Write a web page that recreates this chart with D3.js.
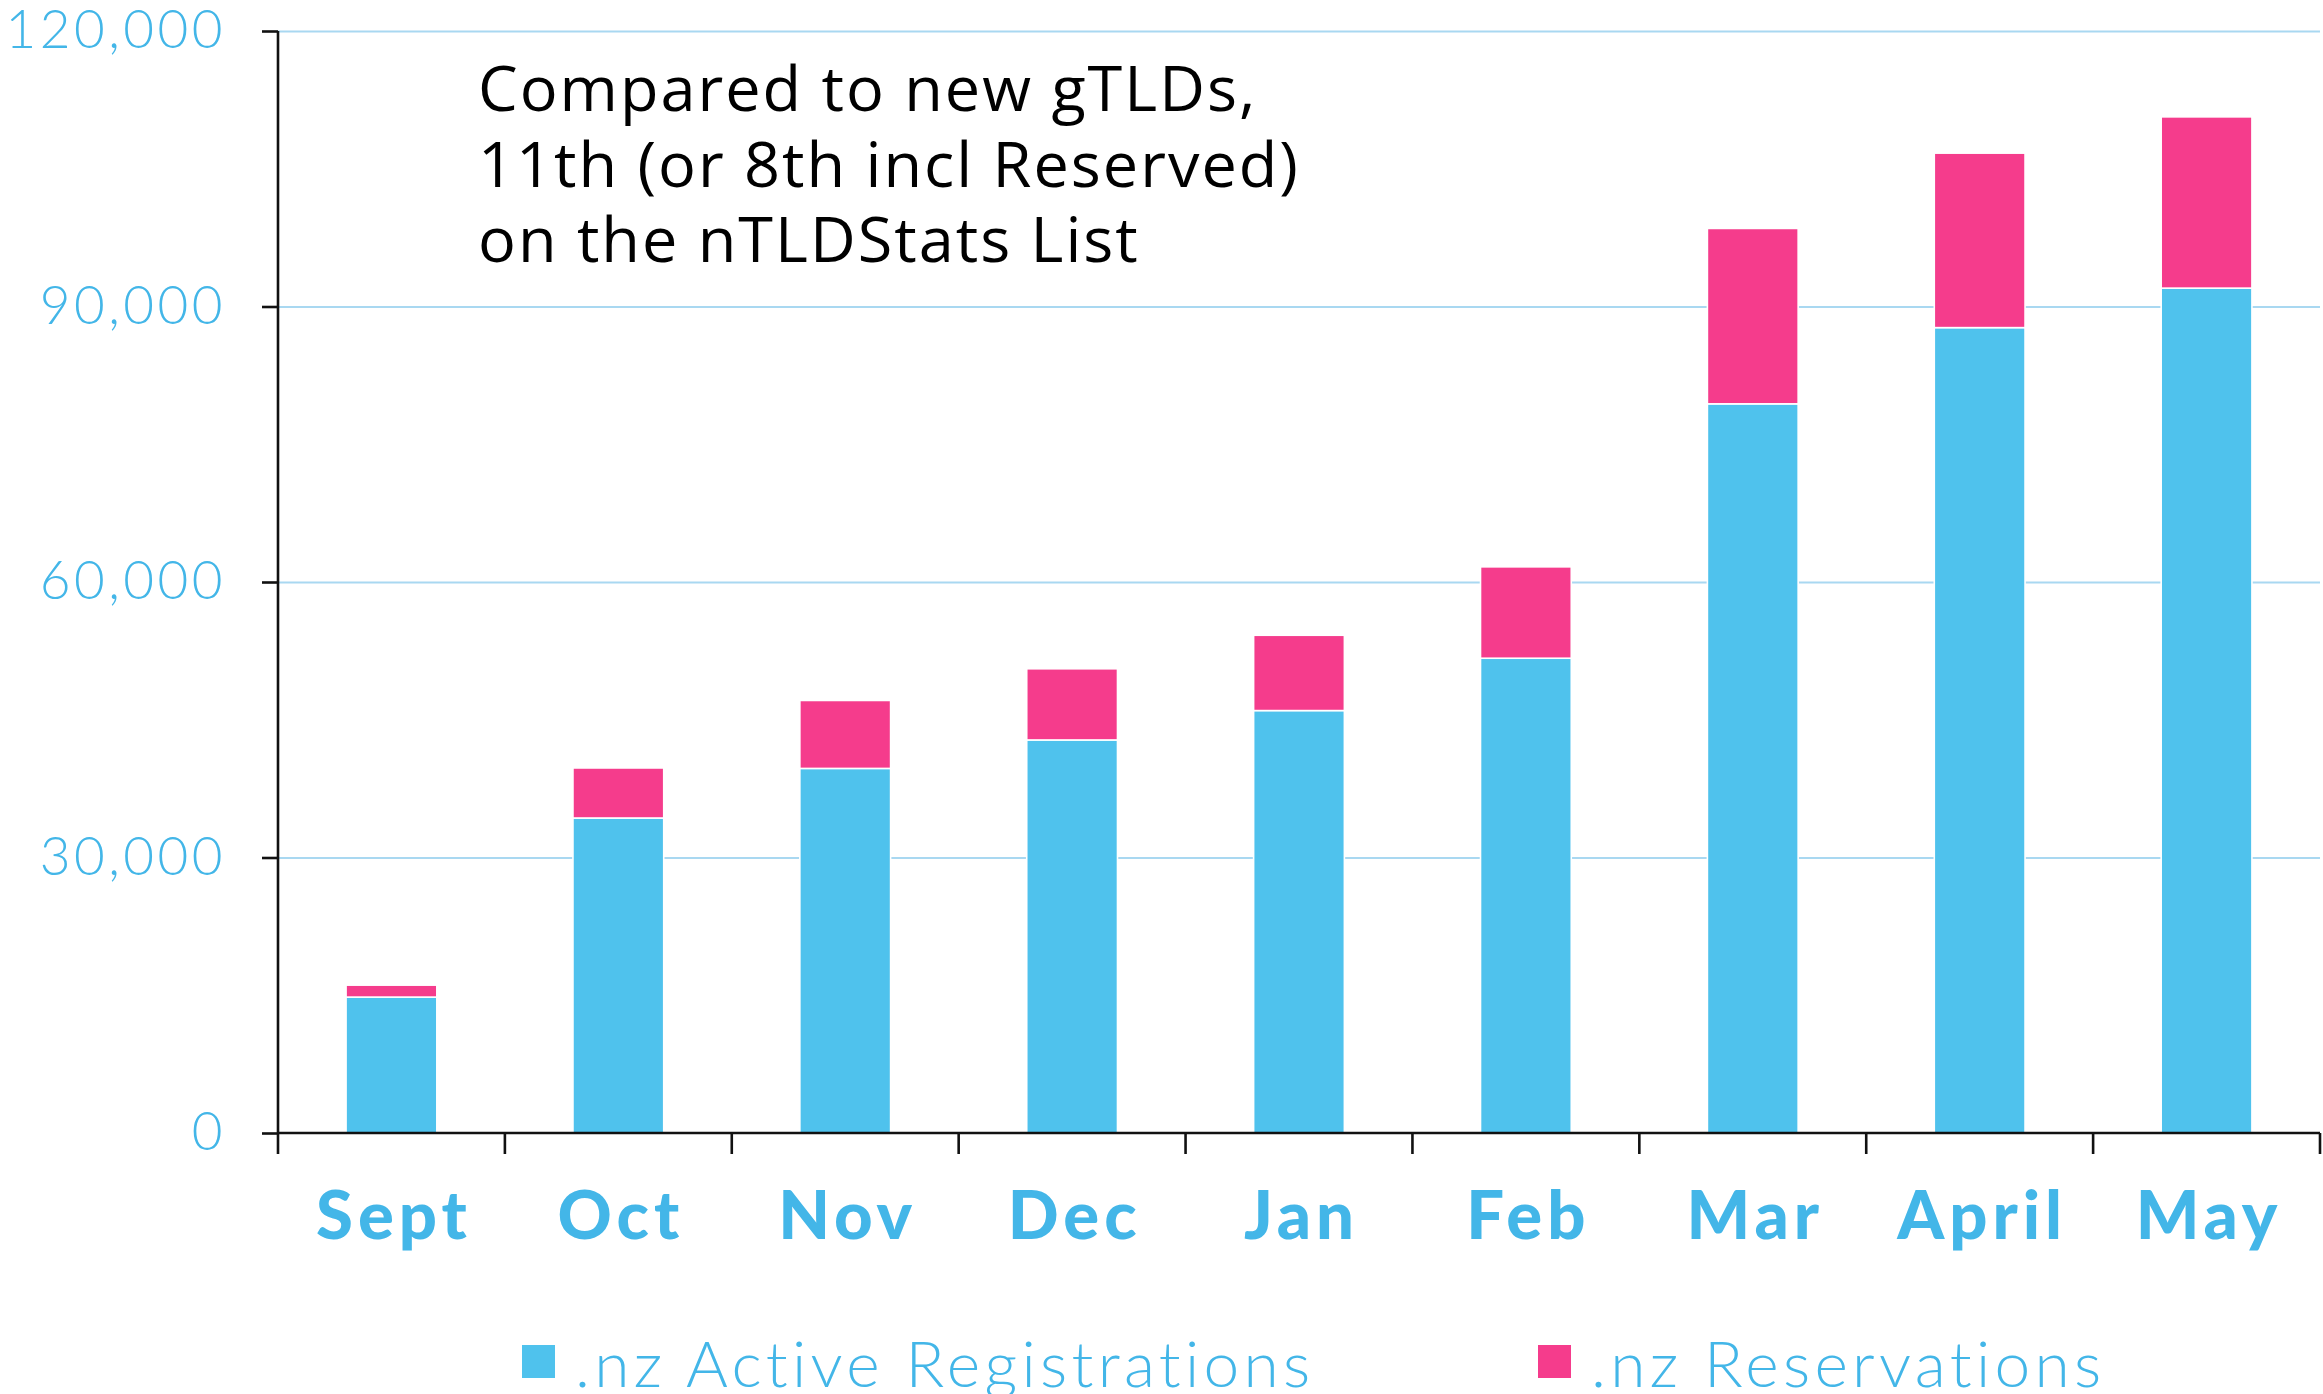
<!DOCTYPE html>
<html>
<head>
<meta charset="utf-8">
<script src="https://cdn.jsdelivr.net/npm/d3@7"></script>
<style>
  html, body { margin: 0; padding: 0; background: #fff; }
  svg { display: block; }
</style>
</head>
<body>
<svg id="chart"></svg>
<script>
// Data
const MONTHS = ["Sept", "Oct", "Nov", "Dec", "Jan", "Feb", "Mar", "April", "May"];
const ACTIVE = [14800, 34300, 39700, 42800, 46000, 51700, 79400, 87700, 92000];
const RESERVED = [1300, 5450, 7400, 7750, 8200, 9950, 19100, 19000, 18650];
const Y_TICKS = [0, 30000, 60000, 90000, 120000];
const SERIES = [".nz Active Registrations", ".nz Reservations"];
const NOTE = ["Compared to new gTLDs,", "11th (or 8th incl Reserved)", "on the nTLDStats List"];

const COLORS = { active: "#4fc2ed", reserved: "#f53c8c" };
const LABEL_BLUE = "#43b6e8";
const GRID_BLUE = "#a9d8f1";

const width = 2323, height = 1394;
const margin = { top: 31, right: 3, bottom: 261, left: 278 };

const svg = d3.select("#chart")
  .attr("width", width)
  .attr("height", height);

const x = d3.scaleBand()
  .domain(MONTHS)
  .range([margin.left, width - margin.right])
  .paddingInner(0.6)
  .paddingOuter(0.3);

const y = d3.scaleLinear()
  .domain([0, 120000])
  .range([height - margin.bottom, margin.top]);

// gridlines
svg.append("g")
  .attr("transform", `translate(${margin.left},0)`)
  .call(d3.axisLeft(y).tickValues(Y_TICKS.slice(1)).tickSize(-(width - margin.right - margin.left)).tickFormat(""))
  .call(g => g.select(".domain").remove())
  .call(g => g.selectAll(".tick line").attr("stroke", GRID_BLUE).attr("stroke-width", 2.2));

// stacked bars
const rows = MONTHS.map((m, i) => ({ month: m, active: ACTIVE[i], reserved: RESERVED[i] }));
const stack = d3.stack().keys(["active", "reserved"]);
const series = stack(rows);

svg.append("g")
  .selectAll("g")
  .data(series)
  .join("g")
  .attr("fill", d => COLORS[d.key])
  .selectAll("rect")
  .data(d => d)
  .join("rect")
  .attr("x", d => x(d.data.month))
  .attr("width", x.bandwidth())
  .attr("y", d => y(d[1]))
  .attr("height", d => y(d[0]) - y(d[1]))
  .attr("stroke", "#fff")
  .attr("stroke-width", 1.6);

// y axis
svg.append("g")
  .attr("transform", `translate(${margin.left},0)`)
  .call(d3.axisLeft(y).tickValues(Y_TICKS).tickSize(16).tickPadding(36).tickFormat(d3.format(",")))
  .call(g => g.select(".domain").attr("stroke", "#111").attr("stroke-width", 2.6)
    .attr("d", `M0,${y(120000)}V${y(0) + 21}`))
  .call(g => g.selectAll(".tick line").attr("stroke", "#111").attr("stroke-width", 2.6))
  .call(g => g.selectAll(".tick text")
    .attr("fill", LABEL_BLUE)
    .attr("font-family", "Lato, sans-serif")
    .attr("font-weight", 300)
    .attr("font-size", 53)
    .attr("letter-spacing", 3.5));

// x axis
const step = x.step();
const edges = MONTHS.map(m => x(m) - step * x.paddingInner() / 2).concat([x.range()[1]]);
const xAxis = svg.append("g")
  .attr("transform", `translate(0,${y(0)})`)
  .call(d3.axisBottom(x).tickSize(0).tickPadding(0))
  .call(g => g.select(".domain").attr("stroke", "#111").attr("stroke-width", 2.6)
    .attr("d", `M${margin.left},0H${width - margin.right}`))
  .call(g => g.selectAll(".tick text")
    .attr("dy", null)
    .attr("y", 106)
    .attr("dx", 2.5)
    .attr("fill", LABEL_BLUE)
    .attr("font-family", "Lato, sans-serif")
    .attr("font-weight", 900)
    .attr("font-size", 67)
    .attr("letter-spacing", 5));

xAxis.selectAll(".edge")
  .data(edges.slice(1))
  .join("line")
  .attr("class", "edge")
  .attr("x1", d => d).attr("x2", d => d)
  .attr("y1", 0).attr("y2", 21)
  .attr("stroke", "#111")
  .attr("stroke-width", 2.6);

// annotation
svg.append("text")
  .attr("font-family", "'Open Sans', sans-serif")
  .attr("font-size", 63)
  .attr("letter-spacing", 2)
  .attr("fill", "#000")
  .selectAll("tspan")
  .data(NOTE)
  .join("tspan")
  .attr("x", 478)
  .attr("y", (d, i) => 111 + i * 75.5)
  .text(d => d);

// legend
const legendItems = [
  { label: SERIES[0], color: COLORS.active, x: 522 },
  { label: SERIES[1], color: COLORS.reserved, x: 1538 }
];
const legend = svg.append("g")
  .selectAll("g")
  .data(legendItems)
  .join("g")
  .attr("transform", d => `translate(${d.x},0)`);

legend.append("rect")
  .attr("x", 0).attr("y", 1345)
  .attr("width", 33).attr("height", 33)
  .attr("fill", d => d.color);

legend.append("text")
  .attr("x", 53)
  .attr("y", 1387)
  .attr("fill", LABEL_BLUE)
  .attr("font-family", "Lato, sans-serif")
  .attr("font-weight", 300)
  .attr("font-size", 64)
  .attr("letter-spacing", 4.3)
  .text(d => d.label);
</script>
</body>
</html>
